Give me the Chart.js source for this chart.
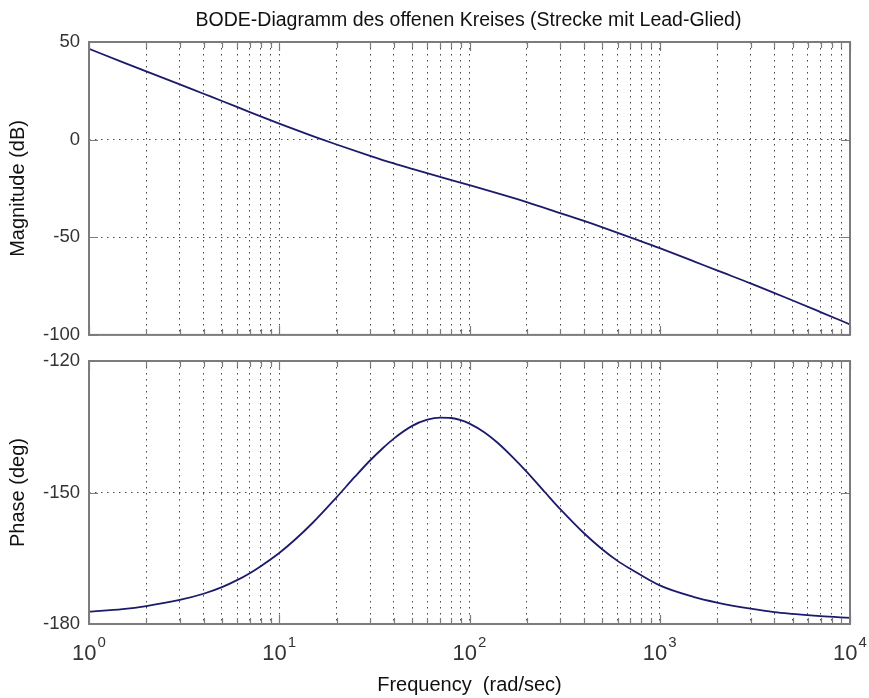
<!DOCTYPE html>
<html>
<head>
<meta charset="utf-8">
<script src="https://cdn.jsdelivr.net/npm/chart.js@4"></script>
<style>
  html, body { margin: 0; padding: 0; background: #fff; }
  #wrap { position: relative; width: 869px; height: 698px; background: #fff; overflow: hidden; }
  #wrap canvas { position: absolute; left: 0; }
</style>
</head>
<body>
<div id="wrap">
  <canvas id="magChart" width="869" height="355" style="top:0px"></canvas>
  <canvas id="phaseChart" width="869" height="358" style="top:340px"></canvas>
</div>
<script>
// Open-loop Bode data (plant with lead compensator)
const magFreq = [1, 1.5, 2, 3, 4, 5, 7, 10, 15, 20, 30, 40, 50, 70, 100, 150, 200, 300, 400, 500, 700, 1000, 1500, 2000, 3000, 5000, 7000, 10000];
const magnitudeDb = [46.5, 39.7, 35.0, 28.3, 23.5, 19.8, 14.1, 8.2, 1.8, -2.5, -8.3, -12.2, -15.0, -19.1, -23.3, -28.3, -32.0, -37.6, -41.6, -44.9, -50.1, -55.6, -62.2, -67.0, -73.6, -82.4, -88.3, -94.6];

const phaseFreq = [1, 1.5, 2, 3, 4, 5, 6, 7, 8, 10, 12, 15, 20, 25, 30, 35, 40, 50, 60, 70, 80, 90, 100, 120, 140, 170, 200, 250, 300, 400, 500, 600, 700, 1000, 1500, 2000, 3000, 4000, 5000, 7000, 10000];
const phaseDeg = [-177.2, -176.6, -175.9, -174.5, -173.1, -171.6, -170.0, -168.4, -166.8, -163.8, -160.9, -156.9, -151.1, -146.4, -142.7, -139.9, -137.7, -134.8, -133.4, -132.9, -133.0, -133.5, -134.3, -136.3, -138.6, -142.1, -145.3, -150.0, -153.8, -159.3, -163.0, -165.6, -167.4, -171.2, -173.8, -175.1, -176.5, -177.3, -177.7, -178.2, -178.6];

// Axis ticks
const decadeExponents = ['0', '1', '2', '3', '4'];
const minorMultipliers = [1, 2, 3, 4, 5, 6, 7, 8, 9];
const magTicks = [50, 0, -50, -100];
const phaseTicks = [-120, -150, -180];

const titleText = 'BODE-Diagramm des offenen Kreises (Strecke mit Lead-Glied)';
const magLabel = 'Magnitude (dB)';
const phaseLabel = 'Phase (deg)';
const freqLabel = 'Frequency  (rad/sec)';

const FONT = "'Liberation Sans', Arial, Helvetica, sans-serif";
Chart.defaults.font.family = FONT;

const LINE_COLOR = '#1b1b6b';
const GRID_COLOR = 'rgba(40,40,40,0.85)';
const FRAME_COLOR = '#7c7c7c';

function logTicks() {
  const out = [];
  decadeExponents.forEach((e, i) => {
    const base = Math.pow(10, i);
    if (i === decadeExponents.length - 1) {
      out.push({ value: base, major: true });
    } else {
      minorMultipliers.forEach(m => out.push({ value: m * base, major: m === 1 }));
    }
  });
  return out;
}

function toPoints(xs, ys) {
  return xs.map((x, i) => ({ x, y: ys[i] }));
}

// Frame box plus inward tick marks, MATLAB style
const framePlugin = {
  id: 'frame',
  afterDraw(chart) {
    const { ctx, chartArea: a, scales } = chart;
    const xs = scales.x, ys = scales.y;
    ctx.save();
    ctx.strokeStyle = FRAME_COLOR;
    ctx.lineWidth = 1.2;
    ctx.beginPath();
    xs.ticks.forEach(t => {
      const px = Math.round(xs.getPixelForValue(t.value)) + 0.5;
      const len = t.major ? 9 : 6;
      ctx.moveTo(px, a.bottom); ctx.lineTo(px, a.bottom - len);
      ctx.moveTo(px, a.top); ctx.lineTo(px, a.top + len);
    });
    ys.ticks.forEach(t => {
      const py = Math.round(ys.getPixelForValue(t.value)) + 0.5;
      ctx.moveTo(a.left, py); ctx.lineTo(a.left + 9, py);
      ctx.moveTo(a.right, py); ctx.lineTo(a.right - 9, py);
    });
    ctx.stroke();
    ctx.lineWidth = 2;
    ctx.strokeRect(a.left, a.top, a.right - a.left, a.bottom - a.top);
    ctx.restore();
  }
};

// Title above the magnitude plot
const titlePlugin = {
  id: 'bodeTitle',
  afterDraw(chart) {
    const { ctx, chartArea: a } = chart;
    ctx.save();
    ctx.font = '19.5px ' + FONT;
    ctx.fillStyle = '#111';
    ctx.textAlign = 'center';
    ctx.textBaseline = 'alphabetic';
    ctx.fillText(titleText, (a.left + a.right) / 2 - 1, 26);
    ctx.restore();
  }
};

// Decade labels 10^n under the phase plot
const decadeLabelPlugin = {
  id: 'decadeLabels',
  afterDraw(chart) {
    const { ctx, scales } = chart;
    const xs = scales.x;
    const baseY = chart.chartArea.bottom + 36;
    ctx.save();
    ctx.fillStyle = '#333';
    ctx.textBaseline = 'alphabetic';
    ctx.textAlign = 'left';
    decadeExponents.forEach((e, i) => {
      const px = xs.getPixelForValue(Math.pow(10, i));
      ctx.font = '22px ' + FONT;
      const w1 = ctx.measureText('10').width;
      ctx.font = '15px ' + FONT;
      const w2 = ctx.measureText(e).width;
      const start = px - (w1 + 1 + w2) / 2;
      ctx.font = '22px ' + FONT;
      ctx.fillText('10', start, baseY);
      ctx.font = '15px ' + FONT;
      ctx.fillText(e, start + w1 + 1, baseY - 13);
    });
    ctx.restore();
  }
};

function xAxis(height, withTitle) {
  return {
    type: 'logarithmic',
    min: 1,
    max: 10000,
    afterBuildTicks: s => { s.ticks = logTicks(); },
    afterFit: s => { s.height = height; },
    ticks: { display: false },
    grid: { color: GRID_COLOR, lineWidth: 1, drawTicks: false },
    border: { display: false, dash: [1.5, 4.5] },
    title: withTitle ? {
      display: true,
      text: freqLabel,
      color: '#111',
      font: { size: 20, family: FONT },
      padding: { top: 0, bottom: 1 }
    } : { display: false }
  };
}

function yAxis(min, max, tickValues, label) {
  return {
    min, max,
    afterBuildTicks: s => { s.ticks = tickValues.map(v => ({ value: v })); },
    afterFit: s => { s.width = 89; },
    ticks: { color: '#333', font: { size: 18.5, family: FONT }, padding: 9 },
    grid: { color: GRID_COLOR, lineWidth: 1, drawTicks: false },
    border: { display: false, dash: [1.5, 4.5] },
    title: {
      display: true,
      text: label,
      color: '#111',
      font: { size: 20, family: FONT },
      padding: { top: 6, bottom: 0 }
    }
  };
}

function lineDataset(points) {
  return {
    data: points,
    borderColor: LINE_COLOR,
    borderWidth: 1.8,
    pointRadius: 0,
    fill: false,
    cubicInterpolationMode: 'monotone'
  };
}

const common = {
  responsive: false,
  animation: false,
  devicePixelRatio: 1,
  plugins: { legend: { display: false }, tooltip: { enabled: false }, title: { display: false } }
};

new Chart(document.getElementById('magChart'), {
  type: 'line',
  data: { datasets: [lineDataset(toPoints(magFreq, magnitudeDb))] },
  options: Object.assign({}, common, {
    layout: { padding: { top: 42, right: 19, bottom: 15, left: 0 } },
    scales: { x: xAxis(0, false), y: yAxis(-100, 50, magTicks, magLabel) }
  }),
  plugins: [framePlugin, titlePlugin]
});

new Chart(document.getElementById('phaseChart'), {
  type: 'line',
  data: { datasets: [lineDataset(toPoints(phaseFreq, phaseDeg))] },
  options: Object.assign({}, common, {
    layout: { padding: { top: 21, right: 19, bottom: 0, left: 0 } },
    scales: { x: xAxis(74, true), y: yAxis(-180, -120, phaseTicks, phaseLabel) }
  }),
  plugins: [framePlugin, decadeLabelPlugin]
});
</script>
</body>
</html>
